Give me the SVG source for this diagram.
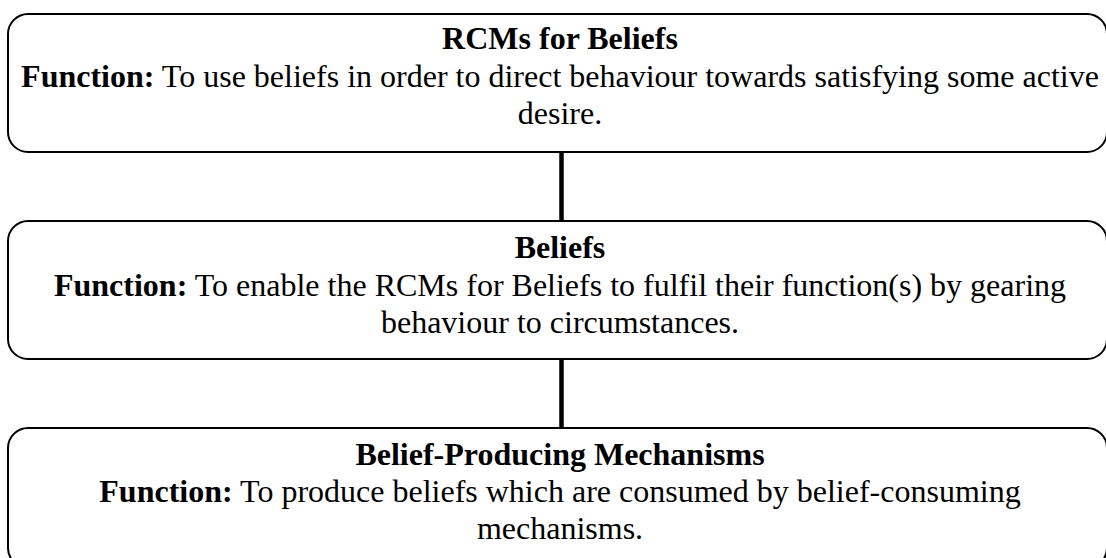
<svg xmlns="http://www.w3.org/2000/svg" width="1106" height="558" viewBox="0 0 1106 558">
<style>
.box{fill:#fff;stroke:#000;stroke-width:2}
.t{font-family:"Liberation Serif","Times New Roman",serif;font-size:32px;fill:#000;text-anchor:middle}
.b{font-weight:bold}
.conn{stroke:#000;stroke-width:4.5;fill:none}
</style>
<rect width="1106" height="558" fill="#fff"/>
<g id="connectors">
<line class="conn" x1="561.5" y1="152" x2="561.5" y2="221"/>
<line class="conn" x1="561.5" y1="359" x2="561.5" y2="428"/>
</g>
<g id="rcms">
<rect class="box" x="8" y="14" width="1099" height="138" rx="20" ry="20"/>
<text class="t b" x="560" y="49">RCMs for Beliefs</text>
<text class="t" x="560" y="86.5"><tspan class="b">Function:</tspan> To use beliefs in order to direct behaviour towards satisfying some active</text>
<text class="t" x="560" y="124">desire.</text>
</g>
<g id="beliefs">
<rect class="box" x="8" y="221" width="1099" height="138" rx="20" ry="20"/>
<text class="t b" x="560" y="258">Beliefs</text>
<text class="t" x="560" y="295.5"><tspan class="b">Function:</tspan> To enable the RCMs for Beliefs to fulfil their function(s) by gearing</text>
<text class="t" x="560" y="333">behaviour to circumstances.</text>
</g>
<g id="producing">
<rect class="box" x="8" y="428" width="1099" height="140" rx="20" ry="20"/>
<text class="t b" x="560" y="465">Belief-Producing Mechanisms</text>
<text class="t" x="560" y="502"><tspan class="b">Function:</tspan> To produce beliefs which are consumed by belief-consuming</text>
<text class="t" x="560" y="539">mechanisms.</text>
</g>
</svg>
